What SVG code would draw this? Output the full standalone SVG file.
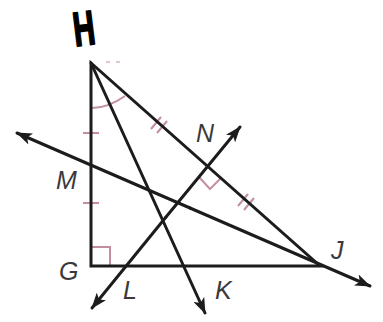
<svg xmlns="http://www.w3.org/2000/svg" width="383" height="322" viewBox="0 0 383 322">
<style>
.ln{stroke:#1c1c1c;stroke-width:3;fill:none;stroke-linecap:round}
.pk{stroke:#c38fa0;stroke-width:2;fill:none}
.lb{font-family:"Liberation Sans",Arial,sans-serif;font-style:italic;font-size:25px;fill:#3a3a3a}
</style>
<defs>
<marker id="ah" viewBox="0 0 16 12" refX="15" refY="6" markerWidth="16" markerHeight="12" markerUnits="userSpaceOnUse" orient="auto">
<path d="M0,0 L16,6 L0,12 L4,6 Z" fill="#1c1c1c"/>
</marker>
</defs>
<rect width="383" height="322" fill="#fff"/>
<g id="marks">
<path class="pk" d="M91,247 H110 V266"/>
<path class="pk" d="M83,133 H99 M83,203 H99"/>
<path class="pk" d="M92,108 Q108,108 125,96"/>
<path class="pk" d="M106,62 H110 M116,62 H120" opacity="0.5"/>
<path class="pk" d="M151,129 L161,117 M157,133 L167,121"/>
<path class="pk" d="M238,206 L248,194 M244,210 L254,198"/>
<path class="pk" d="M199,177 L210,189 L221,178"/>
</g>
<g id="connectors">
<path class="ln" d="M91,63 V266 H320 Z" stroke-linejoin="miter"/>
<line class="ln" x1="91" y1="63" x2="205" y2="313" marker-end="url(#ah)"/>
<line class="ln" x1="166" y1="217" x2="92" y2="308" marker-end="url(#ah)"/>
<line class="ln" x1="166" y1="217" x2="240" y2="127" marker-end="url(#ah)"/>
<line class="ln" x1="190" y1="208" x2="17" y2="133" marker-end="url(#ah)"/>
<line class="ln" x1="190" y1="208" x2="370" y2="286" marker-end="url(#ah)"/>
</g>
<g id="H"><text x="0" y="0" text-anchor="middle" font-family="Liberation Sans,Arial,sans-serif" font-weight="bold" font-size="48" fill="#000" stroke="#000" stroke-width="2" stroke-linejoin="round" transform="translate(86,45) rotate(-7) scale(0.62,1)">H</text></g>
<g id="M"><text class="lb" x="56" y="189">M</text></g>
<g id="N"><text class="lb" x="196" y="142">N</text></g>
<g id="G"><text class="lb" x="59" y="280">G</text></g>
<g id="L"><text class="lb" x="123" y="299">L</text></g>
<g id="K"><text class="lb" x="215" y="299">K</text></g>
<g id="J"><text class="lb" x="331" y="259">J</text></g>
</svg>
